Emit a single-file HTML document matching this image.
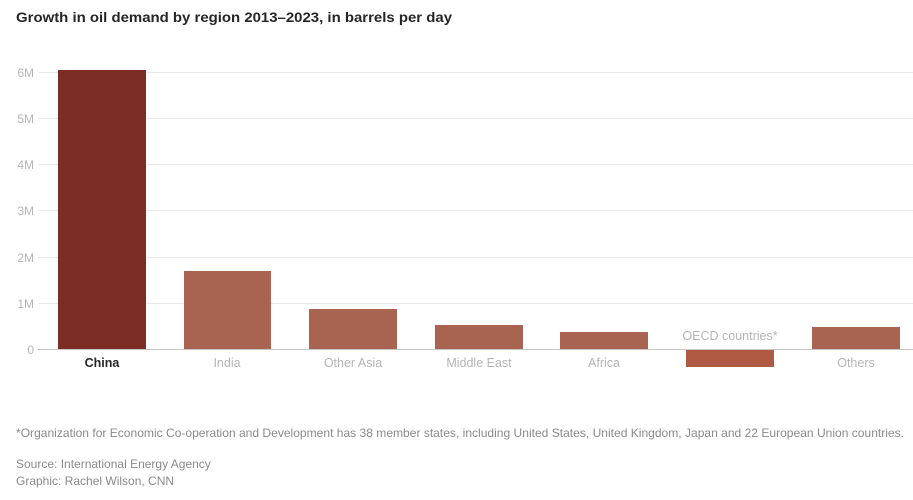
<!DOCTYPE html>
<html><head><meta charset="utf-8"><style>
html,body{margin:0;padding:0;background:#fff;}
svg{display:block;font-family:"Liberation Sans",Arial,sans-serif;}
</style></head><body>
<svg width="913" height="500" viewBox="0 0 913 500" xmlns="http://www.w3.org/2000/svg">
<text x="16" y="22" font-size="14" font-weight="bold" fill="#262626" textLength="436" lengthAdjust="spacingAndGlyphs">Growth in oil demand by region 2013–2023, in barrels per day</text>
<g stroke="#e9e9e9" stroke-width="1">
<line x1="38" x2="913" y1="72.5" y2="72.5"/>
<line x1="38" x2="913" y1="118.5" y2="118.5"/>
<line x1="38" x2="913" y1="164.5" y2="164.5"/>
<line x1="38" x2="913" y1="210.5" y2="210.5"/>
<line x1="38" x2="913" y1="257.5" y2="257.5"/>
<line x1="38" x2="913" y1="303.5" y2="303.5"/>
</g>
<g font-size="12" fill="#b5b5b5" text-anchor="end">
<text x="34" y="77">6M</text>
<text x="34" y="123">5M</text>
<text x="34" y="169">4M</text>
<text x="34" y="215">3M</text>
<text x="34" y="262">2M</text>
<text x="34" y="308">1M</text>
<text x="34" y="354">0</text>
</g>
<rect x="58" y="70" width="88" height="279" fill="#7d2e24"/>
<g fill="#a96451">
<rect x="184" y="271" width="87" height="78"/>
<rect x="309" y="309" width="88" height="40"/>
<rect x="435" y="325" width="88" height="24"/>
<rect x="560" y="332" width="88" height="17"/>
<rect x="812" y="327" width="88" height="22"/>
</g>
<rect x="686" y="349" width="88" height="18" fill="#b05a44"/>
<line x1="38" x2="913" y1="349.5" y2="349.5" stroke="#c4c4c4" stroke-width="1"/>
<g font-size="12.5" fill="#b5b5b5" text-anchor="middle">
<text x="102" y="367" fill="#262626" font-weight="bold">China</text>
<text x="227" y="367">India</text>
<text x="353" y="367">Other Asia</text>
<text x="479" y="367">Middle East</text>
<text x="604" y="367">Africa</text>
<text x="730" y="340">OECD countries*</text>
<text x="856" y="367">Others</text>
</g>
<g font-size="12" fill="#8a8a8a">
<text x="16" y="437" textLength="888" lengthAdjust="spacingAndGlyphs">*Organization for Economic Co-operation and Development has 38 member states, including United States, United Kingdom, Japan and 22 European Union countries.</text>
<text x="16" y="468">Source: International Energy Agency</text>
<text x="16" y="485">Graphic: Rachel Wilson, CNN</text>
</g>
</svg>
</body></html>
